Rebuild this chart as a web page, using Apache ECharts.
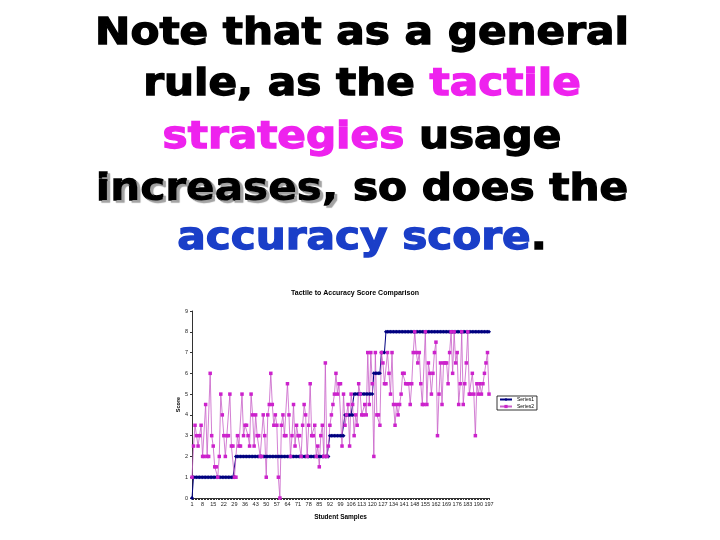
<!DOCTYPE html>
<html>
<head>
<meta charset="utf-8">
<style>html,body{margin:0;padding:0;background:#fff}#c{width:720px;height:540px}</style>
<script src="https://cdn.jsdelivr.net/npm/echarts@6/dist/echarts.min.js"></script>
</head>
<body>
<div id="c"></div>
<script>
// Category labels: student samples 1..197
var categories = [];
for (var k = 1; k <= 197; k++) categories.push(String(k));

// Series1: accuracy score
var series1 = [
0,1,1,1,1,1,1,1,1,1, 1,1,1,1,1,1,1,1,1,1, 1,1,1,1,1,1,1,1,1,2,
2,2,2,2,2,2,2,2,2,2, 2,2,2,2,2,2,2,2,2,2, 2,2,2,2,2,2,2,2,2,2,
2,2,2,2,2,2,2,2,2,2, 2,2,2,2,2,2,2,2,2,2, 2,2,2,2,2,2,2,2,2,2,
2,3,3,3,3,3,3,3,3,3, 3,4,4,4,4,4,4,5,5,5, 5,5,5,5,5,5,5,5,5,5,
6,6,6,6,6,7,7,7,8,8, 8,8,8,8,8,8,8,8,8,8, 8,8,8,8,8,8,8,8,8,8,
8,8,8,8,8,8,8,8,8,8, 8,8,8,8,8,8,8,8,8,8, 8,8,8,8,8,8,8,8,8,8,
8,8,8,8,8,8,8,8,8,8, 8,8,8,8,8,8,8
];

// Series2: tactile strategies score
var series2 = [
1,2.5,3.5,3,2.5,3,3.5,2,2,4.5, 2,2,6,3,2.5,1.5,1.5,1,2,5,
4,3,2,3,3,5,2.5,2.5,1,1, 3,2.5,2.5,5,3,3.5,3.5,3,2.5,5,
4,2.5,4,3,3,2,2,4,3,1, 4,4.5,6,4.5,3.5,4,3.5,1,0,3.5,
4,3,3,5.5,4,2,3,4.5,2.5,3.5, 3,3,2,3.5,4.5,4,2,3.5,5.5,3,
3,3.5,2,2.5,1.5,3,3.5,2,6.5,2, 2.5,3.5,4,4.5,5,6,5,5.5,5.5,2.5,
5,3.5,4,4.5,2.5,5,4.5,3,4,3.5, 5.5,5,4,4,4.5,4,7,4.5,7,5.5,
2,7,4,4,3.5,7,6.5,5.5,5.5,7, 6,5,7,4.5,3.5,4.5,4,4.5,5,6,
6,5.5,5.5,5.5,4.5,5.5,7,8,7,6.5, 7,5.5,4.5,4.5,8,4.5,6.5,6,5,6,
7,7.5,3,5,6.5,4.5,6.5,6.5,6.5,5.5, 7,8,6,8,6.5,7,4.5,5.5,8,4.5,
5.5,6.5,8,5,5,6,5,3,5.5,5, 5.5,5,5.5,6,6.5,7,5
];

var headingLines = [
  'Note that as a general',
  'rule, as the {m|tactile}',
  '{m|strategies} usage',
  '{s|increases,} so does the',
  '{b|accuracy score}.'
];
var chartTitle = 'Tactile to Accuracy Score Comparison';
var seriesNames = ['Series1', 'Series2'];

var headFont = 'bold 38px "DejaVu Sans"';
function richPart(color, extra) {
  var o = {fill: color, font: headFont, stroke: color, lineWidth: 1.3};
  if (extra) for (var key in extra) o[key] = extra[key];
  return o;
}
var rich = {
  m: richPart('#ee22ee'),
  b: richPart('#1a3ec8'),
  s: richPart('#000', {textShadowColor: '#a0a0a0', textShadowOffsetX: 2.5, textShadowOffsetY: 2.5, textShadowBlur: 1})
};
var centersY = [34, 85, 138, 190, 239];
var graphics = headingLines.map(function (t, i) {
  return {
    type: 'text', x: 362, y: centersY[i], scaleX: 1.11, scaleY: 1,
    style: {
      text: t, font: headFont, fill: '#000', stroke: '#000', lineWidth: 1.3,
      align: 'center', verticalAlign: 'middle', rich: rich
    }
  };
});

var chart = echarts.init(document.getElementById('c'), null, {renderer: 'canvas'});
chart.setOption({
  animation: false,
  backgroundColor: '#fff',
  graphic: graphics,
  title: {
    text: chartTitle, left: 350, top: 285, textAlign: 'center',
    textStyle: {color: '#000', fontFamily: 'Liberation Sans', fontWeight: 'bold', fontSize: 7}
  },
  legend: {
    data: seriesNames, orient: 'vertical', left: 497, top: 396,
    itemWidth: 12, itemHeight: 4, itemGap: 2, padding: [1, 3, 1, 2],
    borderColor: '#000', borderWidth: 0.8,
    textStyle: {fontSize: 5, color: '#000', fontFamily: 'Liberation Sans'}
  },
  grid: {left: 192, top: 311, width: 297, height: 187, containLabel: false},
  xAxis: {
    type: 'category', data: categories, boundaryGap: false,
    name: 'Student Samples', nameLocation: 'middle', nameGap: 16,
    nameTextStyle: {fontSize: 6.5, fontWeight: 'bold', color: '#000', fontFamily: 'Liberation Sans'},
    axisLine: {lineStyle: {color: '#333', width: 1}},
    axisTick: {interval: 0, length: 2, lineStyle: {color: '#333'}},
    axisLabel: {interval: 6, fontSize: 5.5, color: '#222', margin: 3, fontFamily: 'Liberation Sans'},
    splitLine: {show: false}
  },
  yAxis: {
    type: 'value', min: 0, max: 9, interval: 1,
    name: 'Score', nameLocation: 'middle', nameGap: 11, nameRotate: 90,
    nameTextStyle: {fontSize: 5.5, fontWeight: 'bold', color: '#000', fontFamily: 'Liberation Sans'},
    axisLine: {show: true, lineStyle: {color: '#333', width: 1}},
    axisTick: {show: true, length: 2, lineStyle: {color: '#333'}},
    axisLabel: {fontSize: 5.5, color: '#222', margin: 4, fontFamily: 'Liberation Sans'},
    splitLine: {show: false}
  },
  series: [
    {
      name: seriesNames[0], type: 'line', data: series1,
      symbol: 'diamond', symbolSize: 4, showAllSymbol: true,
      lineStyle: {color: '#000080', width: 1},
      itemStyle: {color: '#000080'}
    },
    {
      name: seriesNames[1], type: 'line', data: series2,
      symbol: 'rect', symbolSize: 3.5, showAllSymbol: true,
      lineStyle: {color: '#c860c8', width: 0.8},
      itemStyle: {color: '#cc22cc'}
    }
  ]
});
</script>
</body>
</html>
